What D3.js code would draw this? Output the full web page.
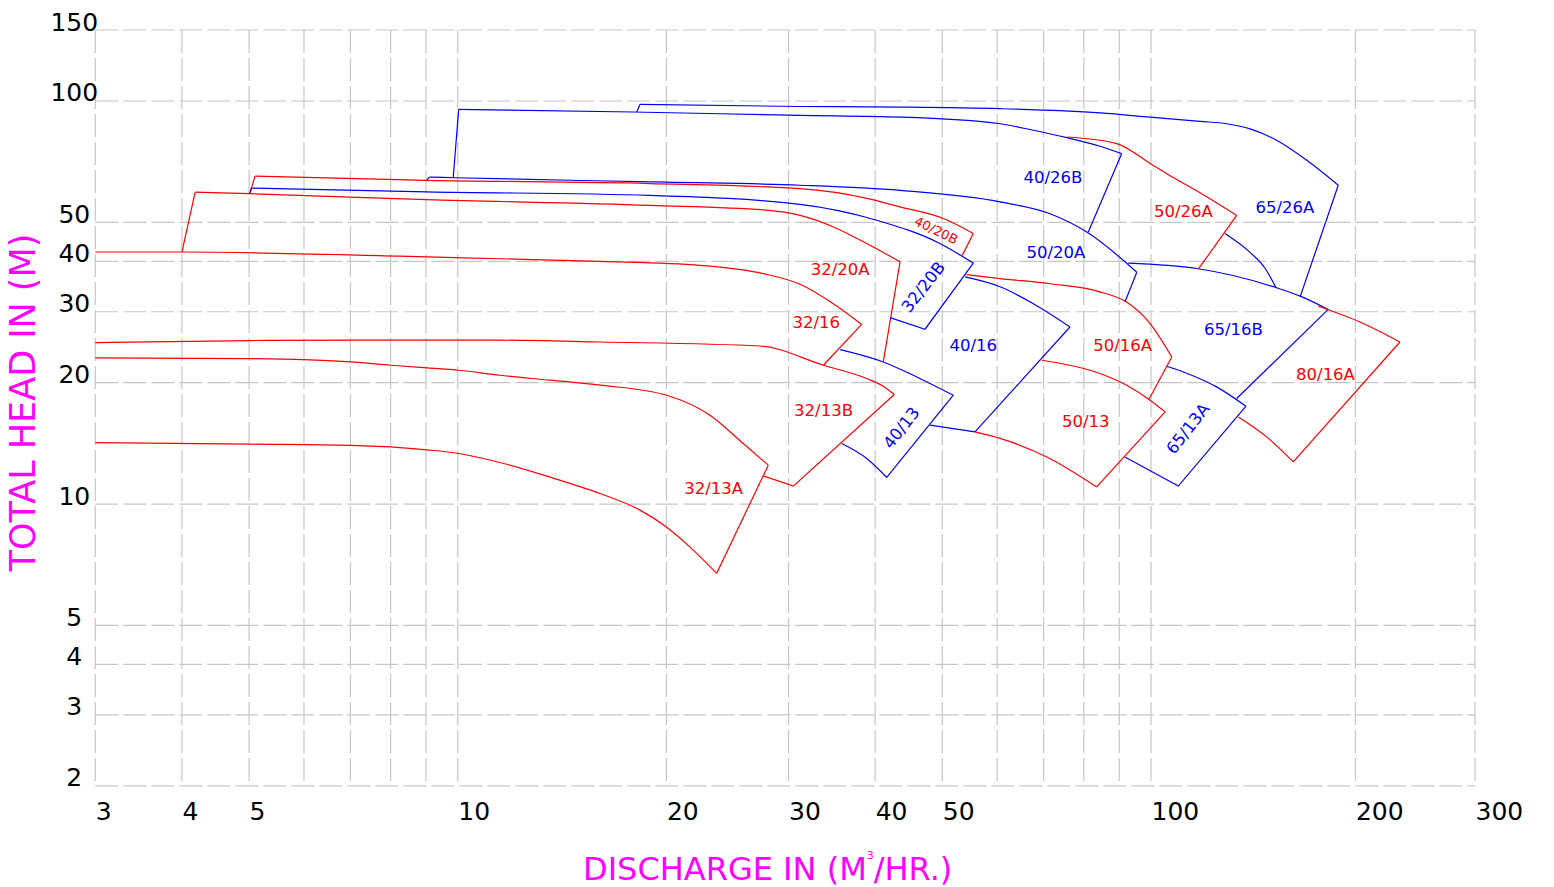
<!DOCTYPE html>
<html>
<head>
<meta charset="utf-8">
<script src="https://cdnjs.cloudflare.com/ajax/libs/d3/7.8.5/d3.min.js"></script>
<style>
  html, body { margin: 0; padding: 0; background: #fff; }
  svg { display: block; font-family: "DejaVu Sans", sans-serif; }
</style>
</head>
<body>
<script>
const width = 1554, height = 887;

const xGrid = [3, 4, 5, 6, 7, 8, 9, 10, 20, 30, 40, 50, 60, 70, 80, 90, 100, 200, 300];
const xTicks = [3, 4, 5, 10, 20, 30, 40, 50, 100, 200, 300];
const yTicks = [2, 3, 4, 5, 10, 20, 30, 40, 50, 100, 150];

// head-capacity curves, [Q m3/hr, H m]
const hq32_13A_min = [[3, 14.21], [5.01, 14.08], [7.01, 13.98], [9.03, 13.63], [10.03, 13.35], [11.5, 12.68], [13.59, 11.66], [16.04, 10.62], [18.32, 9.66], [20.0, 8.77], [21.63, 7.82], [23.63, 6.73]];
const hq32_13A_max = [[3, 23.05], [5.01, 22.96], [6.0, 22.83], [7.01, 22.52], [8.01, 22.1], [9.03, 21.76], [10.03, 21.48], [11.5, 20.87], [13.59, 20.29], [16.04, 19.72], [20.01, 18.62], [23.11, 16.61], [25.81, 14.13], [28.05, 12.49]];
const hq32_13B_max = [[3, 25.16], [5.01, 25.45], [7.01, 25.5], [11.5, 25.5], [16.04, 25.24], [27.29, 24.67], [33.68, 22.1], [38.9, 20.48], [41.1, 19.61], [42.63, 18.7]];
const hq32_16_max = [[3, 42.2], [4.0, 42.2], [8.25, 41.2], [11.5, 40.6], [16.04, 40.0], [22.36, 39.1], [27.59, 37.3], [31.17, 35.1], [34.81, 31.4], [38.25, 27.9]];
const hq32_20A_max = [[4.18, 59.4], [5.01, 58.9], [9.02, 56.9], [18.94, 55.1], [27.9, 53.6], [31.17, 52.0], [34.81, 48.7], [38.9, 44.3], [43.45, 39.9]];
const hq40_20B_max = [[5.1, 65.1], [9.02, 63.55], [18.94, 62.4], [31.17, 60.6], [38.9, 57.35], [43.45, 54.6], [50.17, 51.1], [55.42, 46.9]];
const hq32_20B_max = [[5.04, 60.8], [9.02, 59.5], [18.94, 58.3], [31.17, 55.4], [40.2, 50.6], [49.6, 44.3], [55.42, 39.6]];
const hq50_20A_max = [[9.1, 64.75], [9.85, 64.5], [20.01, 62.9], [31.17, 61.8], [43.45, 60.0], [60.56, 56.2], [71.52, 52.5], [80.8, 47.3], [95.4, 37.6]];
const hq40_26B_max = [[10.03, 95.3], [17.91, 93.9], [31.17, 92.1], [43.45, 91.2], [60.56, 87.8], [67.66, 84.6], [75.6, 81.1], [84.4, 77.2], [90.7, 74.0]];
const hq65_26A_max = [[18.32, 98.1], [31.17, 96.9], [43.45, 96.6], [60.56, 95.7], [84.4, 93.4], [99.7, 91.2], [118.1, 89.0], [129.3, 87.8], [139.9, 85.3], [153.1, 79.9], [169.6, 71.25], [188.7, 61.8]];
const hq65_26A_min = [[128.5, 46.9], [139.9, 42.1], [147.2, 38.46], [152.8, 34.4]];
const hq50_26A_max = [[75.6, 81.4], [89.2, 78.4], [99.7, 70.0], [105.5, 66.0], [118.1, 59.2], [133.7, 52.0]];
const hq40_13_max = [[35.6, 24.17], [41.1, 22.52], [45.92, 20.67], [51.86, 18.62]];
const hq40_13_min = [[35.8, 14.13], [38.9, 12.97], [41.57, 11.64]];
const hq40_16_max = [[53.92, 36.6], [60.56, 34.6], [67.66, 31.4], [76.4, 27.5]];
const hq40_16_min = [[48.0, 15.69], [55.73, 15.1]];
const hq50_16A_max = [[54.22, 37.1], [60.56, 36.25], [71.52, 35.2], [84.4, 33.6], [92.2, 31.7], [99.7, 28.05], [107.3, 23.17]];
const hq50_13_max = [[69.57, 22.74], [84.4, 21.08], [92.2, 19.72], [99.7, 18.1], [104.9, 16.93]];
const hq50_13_min = [[55.73, 15.1], [60.56, 14.55], [70.74, 13.09], [83.5, 11.03]];
const hq65_16B_max = [[92.7, 39.6], [116.8, 38.4], [153.1, 34.4], [165.8, 32.8], [182.4, 30.4]];
const hq65_13A_max = [[105.5, 21.98], [111.6, 21.27], [124.9, 19.53], [138.0, 17.49]];
const hq80_16A_max = [[176.4, 30.95], [205.4, 28.05], [232.6, 25.24]];
const hq80_16A_min = [[134.5, 16.45], [148.0, 14.68], [162.0, 12.72]];

// straight boundary lines of each coverage area
const edge32_13A = [[23.63, 6.73], [28.05, 12.49]];
const edge32_13B = [[42.63, 18.7], [30.48, 11.08], [27.59, 11.75]];
const edge32_16 = [[38.25, 27.9], [33.68, 22.1]];
const edge32_20A_l = [[4.0, 42.2], [4.18, 59.4]];
const edge32_20A_r = [[43.45, 39.9], [41.1, 22.52]];
const edge40_20B_l = [[5.01, 58.9], [5.1, 65.1]];
const edge40_20B_r = [[55.42, 46.9], [53.43, 41.4]];
const edge32_20B_l = [[5.01, 58.9], [5.04, 60.8]];
const edge32_20B_r = [[55.42, 39.6], [47.21, 27.15], [42.03, 29.0]];
const edge50_20A_l = [[9.02, 63.55], [9.1, 64.75]];
const edge50_20A_r = [[95.4, 37.6], [91.7, 31.7]];
const edge40_26B_l = [[9.85, 64.5], [10.03, 95.3]];
const edge40_26B_r = [[90.7, 74.0], [81.2, 47.3]];
const edge65_26A_l = [[18.12, 93.9], [18.32, 98.1]];
const edge65_26A_r = [[188.7, 61.8], [165.8, 32.65]];
const edge50_26A = [[133.7, 52.0], [117.4, 38.25]];
const edge40_13 = [[51.86, 18.62], [41.57, 11.64]];
const edge40_16 = [[76.4, 27.5], [55.73, 15.1]];
const edge50_16A = [[107.3, 23.17], [99.3, 18.17]];
const edge50_13 = [[104.9, 16.93], [83.5, 11.03]];
const edge65_16B = [[182.4, 30.4], [133.7, 18.28]];
const edge65_13A = [[138.0, 17.49], [109.7, 11.08], [91.7, 13.09]];
const edge80_16A = [[232.6, 25.24], [162.0, 12.72]];

// model name labels [model, Q, H]
const labels = [
  ["32/13A", 23.4, 10.96], ["32/13B", 33.7, 17.13], ["32/16", 32.9, 28.25], ["32/20A", 35.6, 38.2],
  ["40/20B", 49.0, 47.8], ["50/26A", 111.6, 53.2], ["50/16A", 91.0, 24.85], ["50/13", 80.5, 16.06],
  ["80/16A", 180.7, 21.0], ["40/26B", 72.2, 64.8], ["50/20A", 72.9, 42.1], ["65/26A", 157.5, 54.6],
  ["32/20B", 46.9, 34.6], ["40/16", 55.4, 24.85], ["40/13", 43.6, 15.47], ["65/16B", 132.2, 27.15],
  ["65/13A", 113.2, 15.4]
];
const redModels = ["32/13A", "32/13B", "32/16", "32/20A", "40/20B", "50/26A", "50/16A", "50/13", "80/16A"];

const hqCurves = [
  ["32/13A", hq32_13A_min], ["32/13A", hq32_13A_max], ["32/13B", hq32_13B_max], ["32/16", hq32_16_max],
  ["32/20A", hq32_20A_max], ["40/20B", hq40_20B_max], ["32/20B", hq32_20B_max], ["50/20A", hq50_20A_max],
  ["40/26B", hq40_26B_max], ["65/26A", hq65_26A_max], ["65/26A", hq65_26A_min], ["50/26A", hq50_26A_max],
  ["40/13", hq40_13_max], ["40/13", hq40_13_min], ["40/16", hq40_16_max], ["40/16", hq40_16_min],
  ["50/16A", hq50_16A_max], ["50/13", hq50_13_max], ["50/13", hq50_13_min], ["65/16B", hq65_16B_max],
  ["65/13A", hq65_13A_max], ["80/16A", hq80_16A_max], ["80/16A", hq80_16A_min]
];
const edgeLines = [
  ["32/13A", edge32_13A], ["32/13B", edge32_13B], ["32/16", edge32_16], ["32/20A", edge32_20A_l],
  ["32/20A", edge32_20A_r], ["40/20B", edge40_20B_l], ["40/20B", edge40_20B_r], ["32/20B", edge32_20B_l],
  ["32/20B", edge32_20B_r], ["50/20A", edge50_20A_l], ["50/20A", edge50_20A_r], ["40/26B", edge40_26B_l],
  ["40/26B", edge40_26B_r], ["65/26A", edge65_26A_l], ["65/26A", edge65_26A_r], ["50/26A", edge50_26A],
  ["40/13", edge40_13], ["40/16", edge40_16], ["50/16A", edge50_16A], ["50/13", edge50_13],
  ["65/16B", edge65_16B], ["65/13A", edge65_13A], ["80/16A", edge80_16A]
];

const tilt = {"40/20B": 26, "32/20B": -52, "40/13": -52, "65/13A": -52};
const colorOf = m => redModels.includes(m) ? "#ff0000" : "#0000ff";

// log scales (the drawing is slightly compressed above 100 m3/hr)
const x = d3.scaleLog().domain([3, 100, 300]).range([95.3, 1151, 1475]);
const y = d3.scaleLog().domain([2, 150]).range([785.8, 30]);

const svg = d3.select("body").append("svg")
    .attr("width", width)
    .attr("height", height);

svg.append("rect").attr("width", width).attr("height", height).attr("fill", "#fff");

// grid
const grid = svg.append("g")
    .attr("stroke", "#c6c6c6")
    .attr("stroke-width", 1.2)
    .attr("stroke-dasharray", "23,5");
grid.selectAll(".gx").data(xGrid).join("line")
    .attr("x1", d => x(d)).attr("x2", d => x(d))
    .attr("y1", y(150)).attr("y2", y(2));
grid.selectAll(".gy").data(yTicks).join("line")
    .attr("x1", x(3)).attr("x2", x(300))
    .attr("y1", d => y(d)).attr("y2", d => y(d));

// axes (labels only)
const xAxis = svg.append("g")
    .attr("transform", `translate(0,${y(2)})`)
    .call(d3.axisBottom(x).tickValues(xTicks).tickFormat(d3.format("d")).tickSize(0));
xAxis.select(".domain").remove();
xAxis.selectAll("text")
    .attr("y", 34).attr("dy", 0).attr("x", 0)
    .attr("text-anchor", "start")
    .attr("font-size", 25).attr("font-family", "DejaVu Sans").attr("fill", "#000");

const yAxis = svg.append("g")
    .attr("transform", `translate(${x(3)},0)`)
    .call(d3.axisLeft(y).tickValues(yTicks).tickFormat(d3.format("d")).tickSize(0));
yAxis.select(".domain").remove();
yAxis.selectAll("text")
    .attr("x", -21).attr("dy", 0)
    .attr("text-anchor", "middle")
    .attr("font-size", 25).attr("font-family", "DejaVu Sans").attr("fill", "#000");

// curves
const smooth = d3.line().x(d => x(d[0])).y(d => y(d[1])).curve(d3.curveMonotoneX);
const straight = d3.line().x(d => x(d[0])).y(d => y(d[1]));

const plot = svg.append("g")
    .attr("fill", "none")
    .attr("stroke-width", 1.2)
    .attr("stroke-linejoin", "miter");
plot.selectAll(".hq").data(hqCurves).join("path")
    .attr("d", d => smooth(d[1]))
    .attr("stroke", d => colorOf(d[0]));
plot.selectAll(".edge").data(edgeLines).join("path")
    .attr("d", d => straight(d[1]))
    .attr("stroke", d => colorOf(d[0]));

// model labels
svg.append("g").selectAll("text").data(labels).join("text")
    .attr("transform", d => `translate(${x(d[1])},${y(d[2])}) rotate(${tilt[d[0]] || 0})`)
    .attr("text-anchor", "middle")
    .attr("dy", "0.36em")
    .attr("font-size", d => d[0] === "40/20B" ? 13 : 16.5)
    .attr("fill", d => colorOf(d[0]))
    .text(d => d[0]);

// axis titles
svg.append("text")
    .attr("transform", "translate(34.5,402.5) rotate(-90)")
    .attr("text-anchor", "middle")
    .attr("font-size", 35)
    .attr("fill", "#ff00ff")
    .text("TOTAL HEAD IN (M)");

const xt = svg.append("text")
    .attr("x", 583).attr("y", 880)
    .attr("font-size", 32)
    .attr("fill", "#ff00ff");
xt.append("tspan").text("DISCHARGE IN (M");
xt.append("tspan").attr("font-size", 11).attr("dy", -21).text("3");
xt.append("tspan").attr("dy", 21).text("/HR.)");
</script>
</body>
</html>
